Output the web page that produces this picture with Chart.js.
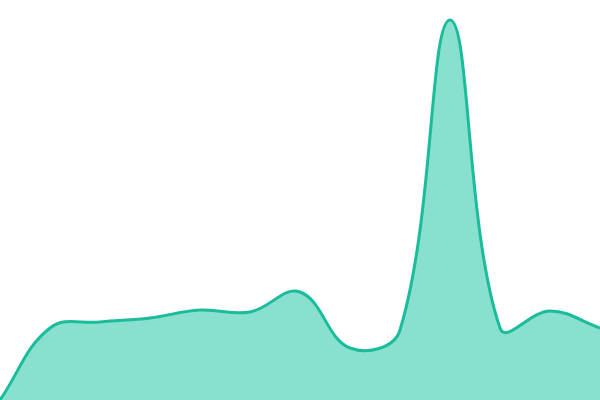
<!DOCTYPE html>
<html lang="en">
<head>
<meta charset="UTF-8">
<title>Area</title>
<style>
  html, body { margin: 0; padding: 0; background: #fff; }
  #wrap { width: 600px; height: 400px; }
</style>
</head>
<body>
<div id="wrap">
  <canvas id="myChart"></canvas>
</div>

<script src="https://cdn.jsdelivr.net/npm/chart.js"></script>
<script>
  const labels = ['1', '2', '3', '4', '5', '6', '7', '8', '9', '10', '11', '12', '13'];
  const values = [0, 72, 78, 82, 90, 88, 108, 52, 70, 380, 72, 89, 72];

  const ctx = document.getElementById('myChart');

  new Chart(ctx, {
    type: 'line',
    data: {
      labels: labels,
      datasets: [{
        data: values,
        borderColor: '#1abc9c',
        backgroundColor: '#89e0ce',
        borderWidth: 3,
        fill: true,
        tension: 0.4,
        pointRadius: 0
      }]
    },
    options: {
      responsive: true,
      maintainAspectRatio: false,
      animation: false,
      layout: { padding: 0 },
      plugins: { legend: { display: false }, tooltip: { enabled: false } },
      scales: {
        x: { display: false, offset: false },
        y: { display: false, min: 0, max: 400 }
      }
    }
  });
</script>
</body>
</html>
